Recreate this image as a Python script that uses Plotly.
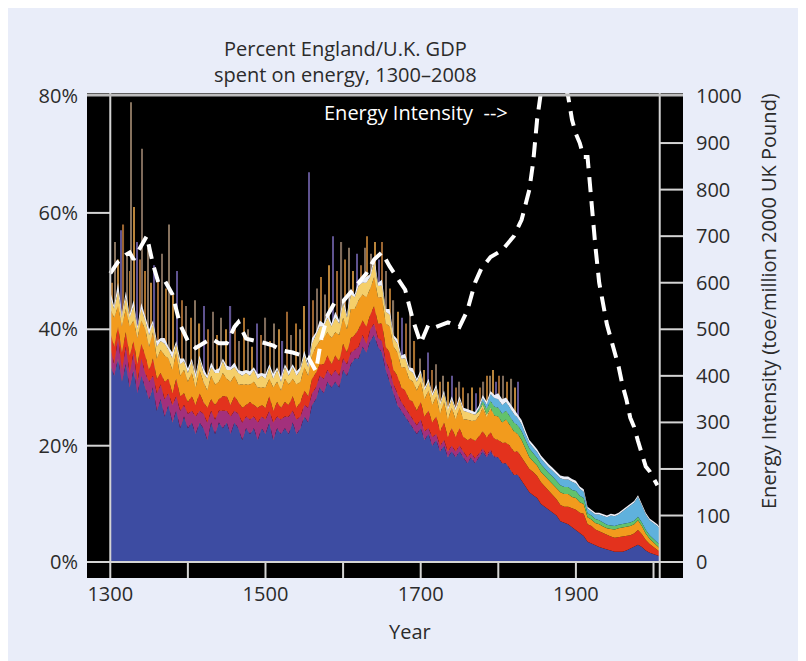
import plotly.graph_objects as go

# ---------------- data ----------------
years = list(range(1300, 2006, 5)) + [2008]

blue = [34, 32, 35, 31, 34, 30, 33, 29, 32, 30,
        28, 30, 26, 28, 25, 27, 24, 26, 23, 25,
        23, 24, 22, 24, 23, 21, 24, 22, 24, 23,
        24, 22, 24, 23, 21, 23, 22, 23, 21, 23,
        22, 24, 21, 23, 22, 23, 22, 24, 22, 23,
        25, 24, 27, 28, 30, 29, 31, 30, 31, 30,
        33, 32, 34, 35, 35, 37, 36, 38, 39, 37,
        36, 33, 31, 29, 27, 26, 25, 24, 23, 22,
        23, 21, 22, 20, 21, 19, 20, 18, 19, 18,
        19, 18, 17, 18, 17, 18, 19, 18, 19, 18,
        18, 17, 17, 16, 15, 15, 14, 13, 12, 11.5,
        11, 10, 9.5, 9, 8.5, 8, 7, 6.7, 6.5, 6,
        5.5, 5, 4.5, 3.5, 3.2, 2.8, 2.6, 2.4, 2.2, 2,
        1.8, 1.8, 1.8, 2, 2.3, 2.6, 3, 2.6, 2, 1.6,
        1.4, 1.2, 1]

magenta = [3, 2, 3.5, 2, 3, 2.5, 3, 2, 3, 2.5,
           3, 2, 3, 2.5, 3, 2, 3, 2.5, 3, 2,
           2.5, 2, 3, 2, 2.5, 3, 2, 2.5, 2, 3,
           2, 3, 2, 2.5, 3, 2, 2.5, 2, 3, 2,
           2.5, 2, 3, 2, 2.5, 2, 3, 2, 2.5, 2,
           2, 2.5, 2, 2, 2, 2.5, 2, 2, 2, 2,
           2, 2, 2, 1.5, 2, 2, 1.5, 2, 2, 1.5,
           2, 1.5, 2, 1.5, 2, 1.5, 1.5, 1.5, 1.5, 1.5,
           1.5, 1.5, 1, 1.5, 1, 1, 1, 1, 1, 1,
           1, 1, 1, 0.8, 0.8, 0.6, 0.5, 0.4, 0.3, 0.2,
           0, 0, 0, 0, 0, 0, 0, 0, 0, 0,
           0, 0, 0, 0, 0, 0, 0, 0, 0, 0,
           0, 0, 0, 0, 0, 0, 0, 0, 0, 0,
           0, 0, 0, 0, 0, 0, 0, 0, 0, 0,
           0, 0, 0]

red = [2.5, 3, 2, 3, 2.5, 3, 2, 3, 2.5, 3,
       2, 3, 2.5, 2, 3, 2.5, 2, 3, 2.5, 2,
       2, 2.5, 2, 3, 2, 2.5, 2, 2.5, 2, 2.5,
       2.5, 2, 2.5, 2, 2.5, 2, 3, 2, 2.5, 2,
       2, 2.5, 2, 2.5, 2, 2.5, 2, 2.5, 2, 2.5,
       2.5, 2, 2.5, 2.5, 2, 2.5, 2.5, 2, 2.5, 2.5,
       2.5, 2, 2.5, 2.5, 3, 2.5, 3, 2.5, 3, 2.5,
       3, 2.5, 3, 2.5, 3, 2.5, 3, 2.5, 3, 2.5,
       3, 2.5, 3, 2.5, 3, 2.5, 3, 2.5, 3, 2.5,
       3, 2.5, 3, 2.5, 3, 3, 3, 3, 3, 3,
       3, 3.5, 3.5, 4, 4, 4, 4, 4, 4, 4,
       3.8, 3.7, 3.5, 3.3, 3, 2.8, 2.8, 2.8, 3, 3.2,
       3.5, 3.5, 3.8, 3, 3, 2.8, 2.7, 2.5, 2.4, 2.4,
       2.4, 2.5, 2.5, 2.4, 2.3, 2.3, 2.5, 2.2, 1.8, 1.5,
       1.2, 0.9, 0.8]

orange = [4, 5, 3.5, 4.5, 4, 5, 3.5, 4.5, 4, 4.5,
          4, 4.5, 3.5, 4, 4.5, 3.5, 4, 4.5, 3.5, 4,
          3.5, 4, 3, 4, 3.5, 3, 4, 3.5, 3, 4,
          3, 4, 3.5, 3, 4, 3.5, 3, 4, 3.5, 3,
          3.5, 3, 4, 3.5, 3, 4, 3.5, 3, 4, 3.5,
          4, 3.5, 4, 4.5, 4, 4.5, 4, 4.5, 4, 4.5,
          4.5, 4, 5, 4.5, 5, 4.5, 5, 4.5, 5, 4.5,
          4.5, 4, 4.5, 4, 4, 3.5, 4, 3.5, 3.5, 3.5,
          3.5, 3, 3.5, 3, 3.5, 3, 3.5, 3, 3.5, 3,
          3.5, 3, 3.5, 3, 3.5, 3.5, 4, 3.5, 4, 4,
          4, 3.5, 4, 3.5, 3.5, 3, 3, 2.5, 2, 1.8,
          1.8, 1.8, 1.8, 1.8, 2, 2, 2.2, 2.2, 2.2, 2,
          2, 1.8, 1.7, 1.2, 1.1, 1.1, 1.2, 1.2, 1.2, 1.3,
          1.4, 1.5, 1.6, 1.6, 1.6, 1.6, 1.7, 1.4, 1.1, 0.9,
          0.8, 0.7, 0.6]

yellow = [2, 1.5, 2.5, 1.5, 2, 1.5, 2.5, 1.5, 2, 1.5,
          2, 1.5, 2, 1.5, 2, 1.5, 2, 1.5, 2, 1.5,
          1.5, 2, 1.5, 2, 1.5, 2, 1.5, 2, 1.5, 2,
          1.5, 2, 1.5, 2, 1.5, 2, 1.5, 2, 1.5, 2,
          1.5, 2, 1.5, 2, 1.5, 2, 1.5, 2, 1.5, 2,
          2, 1.5, 2, 2, 2.5, 2, 2.5, 2, 2.5, 2,
          2.5, 2, 2.5, 2, 2.5, 2, 2.5, 2, 2.5, 2,
          2, 2, 2, 1.5, 1.5, 1.5, 1.5, 1.5, 1.5, 1.5,
          1.5, 1.5, 1.5, 1.5, 1.5, 1.5, 1.5, 1.5, 1.5, 1.5,
          1.5, 1.5, 1.3, 1.2, 1, 0.8, 0.6, 0.4, 0.2, 0,
          0, 0, 0, 0, 0, 0, 0, 0, 0, 0,
          0, 0, 0, 0, 0, 0, 0, 0, 0, 0,
          0, 0, 0, 0, 0, 0, 0, 0, 0, 0,
          0, 0, 0, 0, 0, 0, 0, 0, 0, 0,
          0, 0, 0]

green = [0] * 90 + [
          0, 0, 0, 0, 0, 0.3, 0.6, 1, 1.2, 1.5,
          1.5, 1.5, 1.5, 1.5, 1.5, 1.5, 1.5, 1.5, 1.5, 1.4,
          1.3, 1.3, 1.2, 1.2, 1.2, 1.2, 1.2, 1.2, 1.2, 1.2,
          1.2, 1.1, 1, 0.7, 0.7, 0.7, 0.7, 0.7, 0.6, 0.6,
          0.6, 0.6, 0.6, 0.6, 0.6, 0.6, 0.6, 0.6, 0.6, 0.6,
          0.6, 0.6, 0.6]

cyan = [0] * 90 + [
         0, 0, 0, 0, 0, 0.2, 0.5, 0.8, 1.2, 1.5,
         1.5, 1.5, 1.5, 1.5, 1.5, 1.3, 1.2, 1, 1, 1,
         1, 1, 1, 1, 1, 1.1, 1.2, 1.3, 1.3, 1.4,
         1.3, 1.2, 1.1, 0.8, 0.7, 0.8, 1, 1.1, 1.3, 1.7,
         1.7, 1.8, 2.2, 2.6, 2.9, 3.1, 3.4, 2.9, 2.7, 2.6,
         2.7, 2.8, 2.7]

white = [1, 0.5, 1.5, 0.5, 1, 0.5, 1, 0.5, 1, 0.5,
         1, 0.5, 1, 0.5, 1, 0.5, 1, 0.5, 1, 0.5,
         0.8, 0.5, 0.8, 0.5, 0.8, 0.5, 0.8, 0.5, 0.8, 0.5,
         0.8, 0.5, 0.8, 0.5, 0.8, 0.5, 0.8, 0.5, 0.8, 0.5,
         0.8, 0.5, 0.8, 0.5, 0.8, 0.5, 0.8, 0.5, 0.8, 0.5,
         0.8, 0.5, 1, 0.5, 1, 0.5, 1, 0.5, 1, 0.5,
         1, 0.5, 1, 0.5, 1, 0.5, 1, 0.5, 1, 0.5,
         1, 0.5, 1, 0.5, 0.8, 0.5, 0.8, 0.5, 0.8, 0.5,
         0.5, 0.5, 0.5, 0.5, 0.5, 0.5, 0.5, 0.5, 0.5, 0.5,
         0.5, 0.5, 0.5, 0.5, 0.5, 0.5, 0.5, 0.5, 0.5, 0.5,
         1, 1, 0.8, 0.8, 0.8, 0.7, 0.7, 0.6, 0.5, 0.5,
         0.5, 0.5, 0.5, 0.5, 0.5, 0.5, 0.5, 0.5, 0.5, 0.5,
         0.5, 0.4, 0.4, 0.3, 0.3, 0.3, 0.3, 0.3, 0.3, 0.3,
         0.3, 0.3, 0.3, 0.3, 0.3, 0.3, 0.3, 0.3, 0.3, 0.3,
         0.3, 0.3, 0.3]

# single-year peaks rising above the band (percent of GDP)
spike_years = [1302, 1306, 1310, 1314, 1317, 1321, 1325, 1327, 1331, 1334,
               1338, 1341, 1345, 1349, 1353, 1357, 1362, 1367, 1372, 1376,
               1381, 1386, 1392, 1398, 1404, 1409, 1415, 1421, 1426, 1432,
               1437, 1443, 1449, 1455, 1461, 1466, 1472, 1477, 1483, 1489,
               1494, 1500, 1506, 1511, 1517, 1522, 1528, 1533, 1539, 1545,
               1550, 1556, 1561, 1566, 1572, 1577, 1582, 1587, 1592, 1598,
               1603, 1608, 1613, 1618, 1623, 1628, 1631, 1636, 1641, 1646,
               1650, 1655, 1660, 1665, 1671, 1676, 1681, 1686, 1692, 1699,
               1704, 1709, 1715, 1720, 1725, 1729, 1735, 1740, 1745, 1750,
               1754, 1761, 1766, 1771, 1777, 1781, 1785, 1789, 1793, 1797,
               1801, 1806, 1811, 1817, 1821, 1825]
spike_vals = [48, 55, 52, 57, 58, 53, 50, 79, 61, 55,
              52, 71, 50, 54, 48, 51, 49, 53, 47, 58,
              46, 50, 45, 44, 42, 45, 41, 44, 40, 43,
              39, 42, 40, 44, 41, 38, 42, 40, 37, 41,
              39, 42, 38, 41, 40, 38, 43, 39, 41, 40,
              44, 67, 45, 47, 49, 46, 51, 56, 50, 55,
              52, 54, 50, 53, 51, 54, 56, 53, 55, 52,
              55, 50, 47, 45, 43, 42, 41, 43, 38, 35,
              33, 36, 33, 34, 31, 32, 31, 32, 30, 31,
              30, 29, 30, 29, 30, 31, 32, 32, 33, 31,
              32, 32, 31, 31.5, 30, 31]

# energy intensity (toe / million 2000 UK pound)
ei_years = [1300, 1310, 1320, 1325, 1330, 1340, 1347, 1355, 1362, 1370,
            1380, 1390, 1400, 1410, 1420, 1430, 1440, 1450, 1460, 1465,
            1475, 1490, 1500, 1510, 1520, 1535, 1545, 1555, 1565, 1572,
            1580, 1590, 1600, 1610, 1620, 1630, 1640, 1650, 1660, 1670,
            1680, 1690, 1700, 1710, 1720, 1735, 1750, 1760, 1770, 1778,
            1790, 1805, 1820, 1830, 1840, 1845, 1850, 1855, 1860, 1870,
            1880, 1885, 1890, 1895, 1900, 1905, 1910, 1915, 1920, 1925,
            1930, 1940, 1950, 1955, 1960, 1965, 1970, 1975, 1980, 1985,
            1990, 1995, 2000, 2005]
ei_vals = [620, 645, 660, 665, 650, 680, 700, 640, 600, 605,
           575, 510, 475, 460, 470, 480, 470, 470, 505, 515,
           480, 475, 470, 465, 455, 450, 445, 440, 410, 480,
           530, 560, 560, 580, 600, 620, 650, 665, 635, 610,
           585, 520, 470, 510, 505, 515, 505, 540, 600, 630,
           655, 670, 700, 735, 800, 860, 950, 1010, 1040, 1060,
           1060, 1030, 1000, 950, 920, 900, 870, 870, 770, 680,
           600, 510, 450, 420, 380, 350, 310, 290, 260, 230,
           205, 195, 180, 165]

pct_ticks = [0, 20, 40, 60, 80]
pct_labels = ["0%", "20%", "40%", "60%", "80%"]
year_ticks = [1300, 1500, 1700, 1900]
ei_ticks = [0, 100, 200, 300, 400, 500, 600, 700, 800, 900, 1000]

# ---------------- figure ----------------
BG = "#e9edf9"
TXT = "#2b2b2b"
FONT = "Open Sans"
LINE = "#d4d4d4"
FS = 20

fig = go.Figure()

spike_palette = ["#a8702e", "#86725e", "#b9843a", "#5f5390", "#9a6430", "#7e6a5a"]
fig.add_trace(go.Bar(
    x=spike_years, y=spike_vals, width=1.5,
    marker=dict(color=[spike_palette[i % len(spike_palette)] for i in range(len(spike_years))],
                line=dict(width=0)),
    showlegend=False, hoverinfo="skip"))

layers = [
    (blue, "#3d4ca2"),
    (magenta, "#a3307c"),
    (red, "#e3321d"),
    (orange, "#f29b1d"),
    (yellow, "#f5cf6a"),
    (green, "#62c26c"),
    (cyan, "#5fb1dd"),
    (white, "#eceff8"),
]
for vals, col in layers:
    fig.add_trace(go.Scatter(
        x=years, y=vals, stackgroup="energy", mode="lines",
        line=dict(width=0, color=col), fillcolor=col,
        showlegend=False, hoverinfo="skip"))

fig.add_trace(go.Scatter(
    x=ei_years, y=ei_vals, yaxis="y2", mode="lines",
    line=dict(color="white", width=4, dash="15px,9px"),
    showlegend=False, hoverinfo="skip"))

X0, X1 = 1270, 2038
Y0, Y1 = -2.73, 80.6
Y20, Y21 = -34.2, 1007.5

shapes = []
shapes.append(dict(type="line", xref="x", yref="paper", x0=1300, x1=1300, y0=0, y1=1,
                   line=dict(color=LINE, width=2)))
shapes.append(dict(type="line", xref="x", yref="paper", x0=2008, x1=2008, y0=0, y1=1,
                   line=dict(color=LINE, width=2)))
shapes.append(dict(type="line", xref="paper", yref="y", x0=0, x1=1, y0=0, y1=0,
                   line=dict(color=LINE, width=2)))
shapes.append(dict(type="line", xref="paper", yref="paper", x0=0, x1=1, y0=0.996, y1=0.996,
                   line=dict(color="#bdbdbd", width=3)))
for v in pct_ticks[1:-1]:
    shapes.append(dict(type="line", xref="x", yref="y", x0=X0, x1=1300, y0=v, y1=v,
                       line=dict(color=LINE, width=2)))
for v in ei_ticks[1:-1]:
    shapes.append(dict(type="line", xref="x", yref="y2", x0=2008, x1=X1, y0=v, y1=v,
                       line=dict(color=LINE, width=2)))
for v in [1400, 1500, 1600, 1700, 1800, 1900, 2000]:
    shapes.append(dict(type="line", xref="x", yref="y", x0=v, x1=v, y0=Y0, y1=0,
                       line=dict(color=LINE, width=2)))

fig.update_layout(
    width=798, height=653,
    margin=dict(l=79, r=123, t=85, b=83),
    paper_bgcolor=BG, plot_bgcolor="black",
    font=dict(family=FONT, size=FS, color=TXT),
    showlegend=False,
    barmode="overlay",
    xaxis=dict(range=[X0, X1], tickvals=year_ticks, ticks="", showgrid=False,
               zeroline=False, showline=False, ticklabelstandoff=2,
               tickfont=dict(size=FS, color=TXT)),
    yaxis=dict(range=[Y0, Y1], tickvals=pct_ticks, ticktext=pct_labels, ticks="",
               showgrid=False, zeroline=False, showline=False, ticklabelstandoff=8,
               tickfont=dict(size=FS, color=TXT)),
    yaxis2=dict(range=[Y20, Y21], overlaying="y", side="right", tickvals=ei_ticks,
                ticks="", showgrid=False, zeroline=False, showline=False,
                ticklabelstandoff=12, tickfont=dict(size=FS, color=TXT)),
    shapes=shapes,
    annotations=[
        dict(text="Percent England/U.K. GDP<br>spent on energy, 1300\u20132008",
             xref="paper", yref="paper", x=(345 - 87) / 596, y=(578 - 61) / 485,
             xanchor="center", yanchor="middle", showarrow=False,
             font=dict(size=FS, color=TXT)),
        dict(text="Energy Intensity  -->", xref="paper", yref="paper",
             x=(322 - 87) / 596, y=(578 - 113) / 485, xanchor="left", yanchor="middle",
             showarrow=False, font=dict(size=FS, color="white")),
        dict(text="Energy Intensity (toe/million 2000 UK Pound)", textangle=-90,
             xref="paper", yref="paper", x=(768 - 87) / 596, y=(578 - 301) / 485,
             xanchor="center", yanchor="middle", showarrow=False,
             font=dict(size=FS, color=TXT)),
        dict(text="Year", xref="paper", yref="paper", x=(410 - 87) / 596,
             y=(578 - 631) / 485, xanchor="center", yanchor="middle",
             showarrow=False, font=dict(size=FS, color=TXT)),
    ],
)

fig.write_html("out.html")
